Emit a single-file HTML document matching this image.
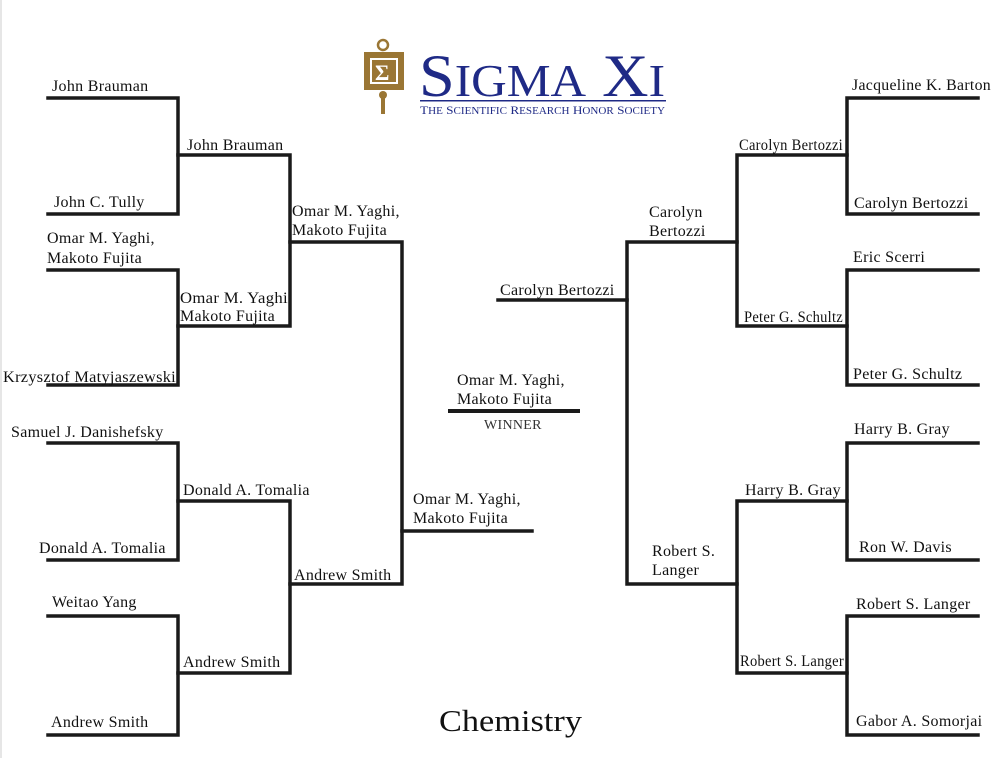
<!DOCTYPE html>
<html><head><style>
body{margin:0;background:#fff;}
svg{display:block;}
text{font-family:"Liberation Serif",serif;font-size:16px;letter-spacing:0.3px;fill:#111;}
</style></head><body>
<svg width="995" height="758" viewBox="0 0 995 758">
<rect x="0" y="0" width="2" height="758" fill="#e6e6e6"/>
<g stroke="#1a1a1a" stroke-width="3.5" fill="none" stroke-linecap="square">
<path d="M48 98H178V214H48"/>
<path d="M48 270H178V385H48"/>
<path d="M48 443H178V560H48"/>
<path d="M48 616H178V735H48"/>
<path d="M178 155H290V326H178"/>
<path d="M178 501H290V673H178"/>
<path d="M290 242H402V584H290"/>
<path d="M402 531H532"/>
<path d="M450 411H578" stroke-width="4"/>
<path d="M498 300H627"/>
<path d="M737 242H627V584H737"/>
<path d="M847 155H737V326H847"/>
<path d="M847 501H737V673H847"/>
<path d="M978 98H847V214H978"/>
<path d="M978 270H847V385H978"/>
<path d="M978 443H847V560H978"/>
<path d="M978 616H847V735H978"/>
</g>
<g fill="#9a7634">
<circle cx="383" cy="45" r="5" fill="none" stroke="#9a7634" stroke-width="2.5"/>
<rect x="364" y="52" width="40" height="6"/>
<rect x="364" y="52" width="6" height="38"/>
<rect x="398" y="52" width="6" height="38"/>
<rect x="364" y="84" width="40" height="6"/>
<rect x="372" y="60" width="24" height="22"/>
<text x="375" y="80" style="font-size:22px;fill:#fff;font-weight:bold;letter-spacing:0">Σ</text>
<circle cx="383" cy="95" r="4"/>
<rect x="381" y="96" width="4" height="18"/>
</g>
<text x="419" y="96" textLength="246" lengthAdjust="spacingAndGlyphs" style="font-size:60px;fill:#1f2a86;letter-spacing:0">S<tspan style="font-size:46px">IGMA</tspan> X<tspan style="font-size:46px">I</tspan></text>
<rect x="420" y="100" width="246" height="1.5" fill="#1f2a86"/>
<text x="420" y="114" textLength="245" lengthAdjust="spacingAndGlyphs" style="font-size:12px;fill:#1f2a86;letter-spacing:0">T<tspan style="font-size:10px">HE</tspan> S<tspan style="font-size:10px">CIENTIFIC</tspan> R<tspan style="font-size:10px">ESEARCH</tspan> H<tspan style="font-size:10px">ONOR</tspan> S<tspan style="font-size:10px">OCIETY</tspan></text>
<text x="52" y="91">John Brauman</text>
<text x="54" y="207">John C. Tully</text>
<text x="47" y="243">Omar M. Yaghi,</text>
<text x="47" y="263">Makoto Fujita</text>
<text x="3" y="382" textLength="173" lengthAdjust="spacingAndGlyphs">Krzysztof Matyjaszewski</text>
<text x="11" y="437">Samuel J. Danishefsky</text>
<text x="39" y="553">Donald A. Tomalia</text>
<text x="52" y="607">Weitao Yang</text>
<text x="51" y="727">Andrew Smith</text>
<text x="187" y="150">John Brauman</text>
<text x="180" y="303" textLength="108" lengthAdjust="spacingAndGlyphs">Omar M. Yaghi</text>
<text x="180" y="321">Makoto Fujita</text>
<text x="183" y="495">Donald A. Tomalia</text>
<text x="183" y="667">Andrew Smith</text>
<text x="292" y="216">Omar M. Yaghi,</text>
<text x="292" y="235">Makoto Fujita</text>
<text x="294" y="580">Andrew Smith</text>
<text x="413" y="504">Omar M. Yaghi,</text>
<text x="413" y="523">Makoto Fujita</text>
<text x="457" y="385">Omar M. Yaghi,</text>
<text x="457" y="404">Makoto Fujita</text>
<text x="484" y="429" style="font-size:14px;fill:#333">WINNER</text>
<text x="439" y="731" textLength="143" lengthAdjust="spacingAndGlyphs" style="font-size:31px;letter-spacing:0">Chemistry</text>
<text x="500" y="295">Carolyn Bertozzi</text>
<text x="649" y="217">Carolyn</text>
<text x="649" y="236">Bertozzi</text>
<text x="652" y="556">Robert S.</text>
<text x="652" y="575">Langer</text>
<text x="739" y="150" textLength="104" lengthAdjust="spacingAndGlyphs">Carolyn Bertozzi</text>
<text x="744" y="322" textLength="99" lengthAdjust="spacingAndGlyphs">Peter G. Schultz</text>
<text x="745" y="495">Harry B. Gray</text>
<text x="740" y="666" textLength="104" lengthAdjust="spacingAndGlyphs">Robert S. Langer</text>
<text x="852" y="90" textLength="139" lengthAdjust="spacingAndGlyphs">Jacqueline K. Barton</text>
<text x="854" y="208">Carolyn Bertozzi</text>
<text x="853" y="262">Eric Scerri</text>
<text x="853" y="379">Peter G. Schultz</text>
<text x="854" y="434">Harry B. Gray</text>
<text x="859" y="552">Ron W. Davis</text>
<text x="856" y="609">Robert S. Langer</text>
<text x="856" y="726">Gabor A. Somorjai</text>
</svg>
</body></html>
